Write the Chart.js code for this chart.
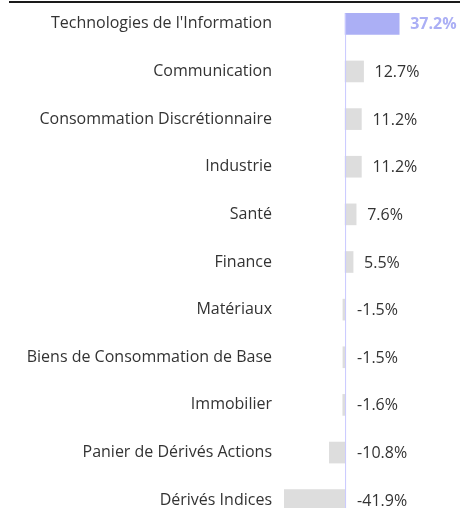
<!DOCTYPE html>
<html lang="fr">
<head>
<meta charset="utf-8">
<script src="https://cdn.jsdelivr.net/npm/chart.js@4"></script>
<style>
  html, body { margin: 0; padding: 0; background: #fff; overflow: hidden; }
  .wrap { position: relative; width: 460px; height: 524px; }
  .top-rule { position: absolute; top: 1px; left: 9px; right: 0; height: 2px; background: #1a1a1a; z-index: 2; }
  canvas { display: block; }
</style>
</head>
<body>
<div class="wrap">
  <div class="top-rule"></div>
  <canvas id="sector-chart" width="460" height="524"></canvas>
</div>
<script>
// secteurs et pondérations (%)
const sectors = [
  'Technologies de l\'Information',
  'Communication',
  'Consommation Discrétionnaire',
  'Industrie',
  'Santé',
  'Finance',
  'Matériaux',
  'Biens de Consommation de Base',
  'Immobilier',
  'Panier de Dérivés Actions',
  'Dérivés Indices',
];
const weights = [37.2, 12.7, 11.2, 11.2, 7.6, 5.5, -1.5, -1.5, -1.6, -10.8, -41.9];

const HIGHLIGHT = '#abaff5';
const GREY = '#dddddd';
const FONT = '"Open Sans", "Noto Sans", sans-serif';

// ligne du zéro + étiquettes de valeur
const valueLabels = {
  id: 'valueLabels',
  afterDatasetsDraw(chart) {
    const { ctx, scales: { x }, chartArea } = chart;
    const meta = chart.getDatasetMeta(0);
    const zero = x.getPixelForValue(0);
    const first = meta.data[0];

    ctx.save();
    ctx.strokeStyle = '#c8c8ff';
    ctx.lineWidth = 1;
    ctx.beginPath();
    ctx.moveTo(zero + 0.5, first.y - first.height / 2);
    ctx.lineTo(zero + 0.5, chartArea.bottom);
    ctx.stroke();

    ctx.textBaseline = 'middle';
    ctx.textAlign = 'left';
    meta.data.forEach((bar, i) => {
      const v = weights[i];
      const tx = v >= 0 ? bar.x + 11 : zero + 12;
      ctx.font = (i === 0 ? 'bold ' : '') + '16px ' + FONT;
      ctx.fillStyle = i === 0 ? HIGHLIGHT : '#333';
      ctx.fillText(v.toFixed(1) + '%', tx, bar.y + 1);
    });
    ctx.restore();
  },
};

new Chart(document.getElementById('sector-chart'), {
  type: 'bar',
  data: {
    labels: sectors,
    datasets: [{
      data: weights,
      backgroundColor: weights.map((v, i) => (i === 0 ? HIGHLIGHT : GREY)),
      borderWidth: 0,
      barThickness: 21,
    }],
  },
  options: {
    indexAxis: 'y',
    responsive: false,
    animation: false,
    layout: { padding: 0, autoPadding: false },
    plugins: {
      legend: { display: false },
      tooltip: { enabled: false },
    },
    scales: {
      x: {
        display: false,
        min: -42,
        max: 79,
      },
      y: {
        grid: { display: false, drawTicks: false },
        border: { display: false },
        ticks: { color: '#333', padding: 12, font: { family: FONT, size: 16 } },
        afterFit(scale) {
          scale.width = 284;
          scale.paddingTop = 0;
          scale.paddingBottom = 0;
        },
      },
    },
  },
  plugins: [valueLabels],
});
</script>
</body>
</html>
